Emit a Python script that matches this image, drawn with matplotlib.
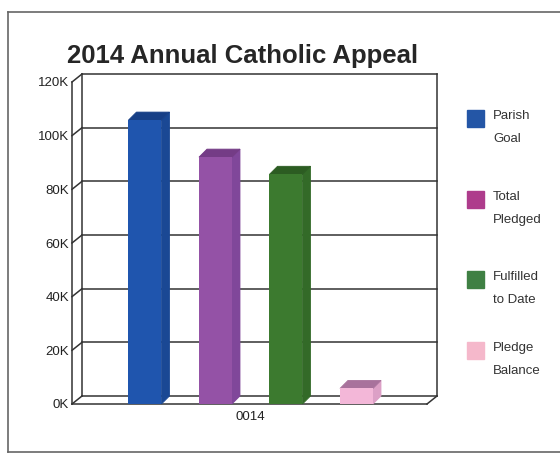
import matplotlib
matplotlib.use("Agg")
import matplotlib.pyplot as plt
from matplotlib.patches import Rectangle
from matplotlib.lines import Line2D

# data
series = ["Parish\nGoal", "Total\nPledged", "Fulfilled\nto Date", "Pledge\nBalance"]
values = [105800, 92000, 85600, 5800]
category = "0014"
yticks = [0, 20000, 40000, 60000, 80000, 100000, 120000]
ytick_labels = ["0K", "20K", "40K", "60K", "80K", "100K", "120K"]

front_col = ["#1f55ae", "#9452a6", "#3c7a2f", "#f3b7d8"]
top_col = ["#173f86", "#743c86", "#2c5c22", "#a8729c"]
side_col = ["#1a4894", "#80479a", "#336a28", "#dca0c6"]
legend_col = ["#2456a6", "#ae3c8c", "#3f8043", "#f5b8cb"]

W, H = 560, 454
plt.rcParams["font.family"] = ["Liberation Sans", "DejaVu Sans"]

fig = plt.figure(figsize=(W / 100, H / 100), dpi=100)
fig.patch.set_facecolor("white")

def fx(px):
    return px / W

def fy(py):
    return 1 - py / H

# axes covers the front plane: x 72..427 px, y 404..82 px
ax = fig.add_axes([fx(72), fy(404), fx(427) - fx(72), fy(82) - fy(404)])
ax.set_facecolor("none")
x0, x1 = -1.035, 4.0
ax.set_xlim(x0, x1)
ax.set_ylim(0, 120000)
for s in ax.spines.values():
    s.set_visible(False)

px_x = 70.5            # px per category step
px_y = 322 / 120000.0  # px per unit value
wall_dx, wall_dy = 10 / px_x, 8 / px_y
bar_dx, bar_dy = 8 / px_x, 8 / px_y
bar_w = 33 / px_x

gc = "#333333"
lw = 1.1
kw = dict(color=gc, lw=lw, clip_on=False, zorder=1)
# back wall grid + diagonals on the left wall
for v in yticks:
    ax.plot([x0, x0 + wall_dx], [v, v + wall_dy], **kw)
    ax.plot([x0 + wall_dx, x1 + wall_dx], [v + wall_dy, v + wall_dy], **kw)
ax.plot([x0, x0], [0, 120000], **kw)
ax.plot([x0 + wall_dx] * 2, [wall_dy, 120000 + wall_dy], **kw)
ax.plot([x1 + wall_dx] * 2, [wall_dy, 120000 + wall_dy], **kw)
# floor front edge
ax.plot([x0, x1], [0, 0], **kw)
ax.plot([x1, x1 + wall_dx], [0, wall_dy], **kw)

# bars: front faces, then side and top faces
xs = list(range(len(values)))
ax.bar(xs, values, width=bar_w, color=front_col, zorder=4, clip_on=False)
for i, v in enumerate(values):
    l, r = i - bar_w / 2, i + bar_w / 2
    ax.fill([r, r + bar_dx, r + bar_dx, r], [0, bar_dy, v + bar_dy, v],
            facecolor=side_col[i], edgecolor=side_col[i], lw=0.6,
            zorder=3, clip_on=False)
    ax.fill([l, l + bar_dx, r + bar_dx, r], [v, v + bar_dy, v + bar_dy, v],
            facecolor=top_col[i], edgecolor=top_col[i], lw=0.6,
            zorder=3, clip_on=False)

ax.set_yticks(yticks)
ax.set_yticklabels(ytick_labels)
ax.set_xticks([(xs[0] + xs[-1]) / 2])
ax.set_xticklabels([category])
ax.tick_params(axis="both", length=0, labelsize=9.5, colors="#222222")
ax.tick_params(axis="y", pad=2)
ax.tick_params(axis="x", pad=5)

fig.text(fx(243), fy(63), "2014 Annual Catholic Appeal", ha="center",
         va="baseline", fontsize=18.5, fontweight="bold", color="#262626")

# legend
leg_y = [118, 199, 279, 350]
for i, lab in enumerate(series):
    cy = leg_y[i]
    fig.add_artist(Rectangle((fx(467), fy(cy + 8.5)), 17 / W, 17 / H,
                             transform=fig.transFigure, color=legend_col[i]))
    a, b = lab.split("\n")
    fig.text(fx(493), fy(cy - 2), a, ha="left", va="center", fontsize=9.5, color="#333333")
    fig.text(fx(493), fy(cy + 21), b, ha="left", va="center", fontsize=9.5, color="#333333")

# outer frame
fc = "#666666"
fig.add_artist(Line2D([fx(8), 1], [fy(12), fy(12)], color=fc, lw=1.2))
fig.add_artist(Line2D([fx(8), fx(8)], [fy(12), fy(452)], color=fc, lw=1.2))
fig.add_artist(Line2D([fx(8), 1], [fy(452), fy(452)], color=fc, lw=1.2))

fig.savefig("out.png", dpi=100)
